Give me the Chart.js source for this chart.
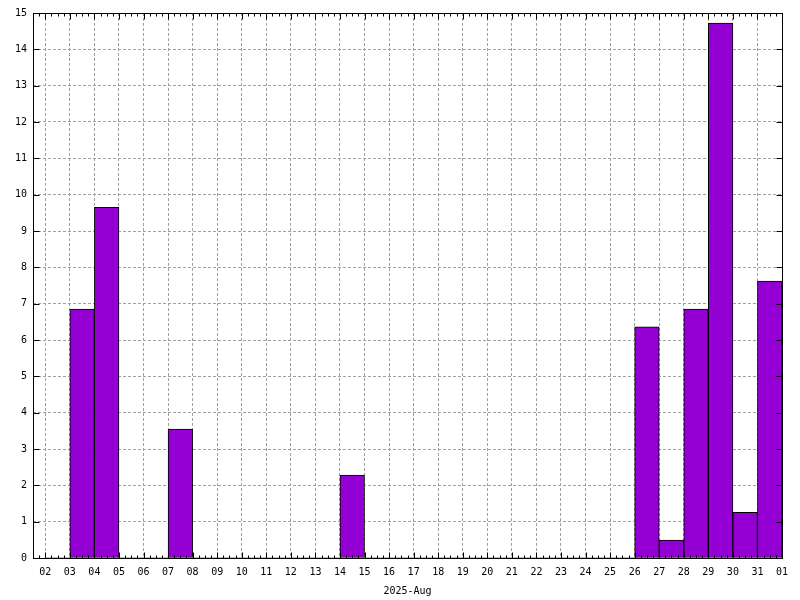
<!DOCTYPE html>
<html>
<head>
<meta charset="utf-8">
<script src="https://cdn.jsdelivr.net/npm/chart.js@4/dist/chart.umd.min.js"></script>
<style>
  html, body { margin: 0; padding: 0; background: #fff; }
  #wrap { width: 800px; height: 600px; }
</style>
</head>
<body>
<div id="wrap"><canvas id="c" width="800" height="600"></canvas></div>
<script>
// Days of August 2025 (bar for day d spans d .. d+1)
const days = [2,3,4,5,6,7,8,9,10,11,12,13,14,15,16,17,18,19,20,21,22,23,24,25,26,27,28,29,30,31];
const values = [0,6.85,9.65,0,0,3.55,0,0,0,0,0,0,2.28,0,0,0,0,0,0,0,0,0,0,0,6.36,0.49,6.85,14.72,1.26,7.62];
// x tick labels at day boundaries 2 .. 32 (32 = 1 Sep)
const xTickValues = [2,3,4,5,6,7,8,9,10,11,12,13,14,15,16,17,18,19,20,21,22,23,24,25,26,27,28,29,30,31,32];
const xTickLabels = ['02','03','04','05','06','07','08','09','10','11','12','13','14','15','16','17','18','19','20','21','22','23','24','25','26','27','28','29','30','31','01'];
const xMin = 1.5, xMax = 32;
const yMin = 0, yMax = 15;
const xTitle = '2025-Aug';

const FONT = { family: "'DejaVu Sans Mono', monospace", size: 10 };

const bgPlugin = {
  id: 'bg',
  beforeDraw(chart) {
    const ctx = chart.ctx;
    ctx.save();
    ctx.fillStyle = '#fff';
    ctx.fillRect(0, 0, chart.width, chart.height);
    ctx.restore();
  }
};

const framePlugin = {
  id: 'frame',
  afterDatasetsDraw(chart) {
    const ctx = chart.ctx;
    const a = chart.chartArea;
    const xs = chart.scales.x, ys = chart.scales.y;
    const L = Math.round(a.left) + 0.5, R = Math.round(a.right) + 0.5;
    const T = Math.round(a.top) + 0.5, B = Math.round(a.bottom) + 0.5;
    ctx.save();
    ctx.strokeStyle = '#000';
    ctx.lineWidth = 1;
    ctx.setLineDash([]);
    ctx.beginPath();
    ys.ticks.forEach(t => {
      const py = Math.round(ys.getPixelForValue(t.value)) + 0.5;
      ctx.moveTo(L, py); ctx.lineTo(L + 6, py);
      ctx.moveTo(R, py); ctx.lineTo(R - 6, py);
    });
    xTickValues.forEach(v => {
      const px = Math.round(xs.getPixelForValue(v)) + 0.5;
      ctx.moveTo(px, B); ctx.lineTo(px, B - 6);
      ctx.moveTo(px, T); ctx.lineTo(px, T + 6);
    });
    for (let q = Math.ceil(xMin * 4); q <= xMax * 4; q++) {
      if (q % 4 === 0) continue;
      const px = Math.round(xs.getPixelForValue(q / 4)) + 0.5;
      ctx.moveTo(px, B); ctx.lineTo(px, B - 3);
      ctx.moveTo(px, T); ctx.lineTo(px, T + 3);
    }
    ctx.stroke();
    ctx.strokeRect(L, T, R - L, B - T);
    ctx.restore();
  }
};

new Chart(document.getElementById('c'), {
  type: 'bar',
  data: {
    datasets: [{
      data: days.map((d, i) => ({ x: d + 0.5, y: values[i] })),
      backgroundColor: '#9400d3',
      borderColor: '#000',
      borderWidth: ctx => (ctx.raw && ctx.raw.y > 0 ? 1 : 0),
      borderSkipped: false,
      barPercentage: 1,
      categoryPercentage: 1
    }]
  },
  options: {
    responsive: false,
    animation: false,
    devicePixelRatio: 1,
    layout: { padding: { top: 13, right: 18, left: 0, bottom: 0 } },
    plugins: { legend: { display: false }, tooltip: { enabled: false } },
    scales: {
      x: {
        type: 'linear',
        offset: false,
        min: xMin, max: xMax,
        afterBuildTicks: s => { s.ticks = xTickValues.map(v => ({ value: v })); },
        afterFit: s => { s.height = 42; },
        ticks: {
          autoSkip: false, maxRotation: 0, padding: 8,
          font: FONT, color: '#000',
          callback: v => xTickLabels[xTickValues.indexOf(v)]
        },
        grid: { offset: false, color: '#a0a0a0', lineWidth: 1, drawTicks: false },
        border: { display: false, dash: [3, 2] },
        title: { display: true, text: xTitle, font: FONT, color: '#000', padding: { top: 0, bottom: 3 } }
      },
      y: {
        min: yMin, max: yMax,
        afterFit: s => { s.width = 33; },
        ticks: { stepSize: 1, padding: 6, font: FONT, color: '#000' },
        grid: { color: '#a0a0a0', lineWidth: 1, drawTicks: false },
        border: { display: false, dash: [3, 2] }
      }
    }
  },
  plugins: [bgPlugin, framePlugin]
});
</script>
</body>
</html>
